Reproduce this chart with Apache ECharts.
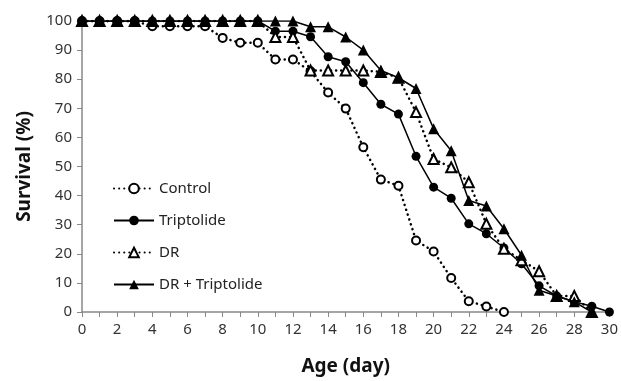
<!DOCTYPE html>
<html>
<head>
<meta charset="utf-8">
<script src="https://cdn.jsdelivr.net/npm/echarts@6/dist/echarts.min.js"></script>
<style>
  html, body { margin: 0; padding: 0; background: #fff; }
  #chart { width: 621px; height: 381px; }
</style>
</head>
<body>
<div id="chart"></div>
<script>
(function(){
    // survival (%) per day
    var controlDays = [0,1,2,3,4,5,6,7,8,9,10,11,12,13,14,15,16,17,18,19,20,21,22,23,24];
    var controlVals = [100,100,100,100,98.2,98.2,98.2,98.2,94.2,92.5,92.5,86.8,86.8,82.7,75.4,69.9,56.6,45.5,43.4,24.6,20.8,11.7,3.7,1.9,0];

    var tripDays = [0,1,2,3,4,5,6,7,8,9,10,11,12,13,14,15,16,17,18,19,20,21,22,23,24,25,26,27,28,29,30];
    var tripVals = [100,100,100,100,100,100,100,100,100,100,100,96.5,96.5,94.6,87.7,86,78.8,71.4,68,53.5,42.9,39.1,30.3,26.9,22,16.6,9,5.5,3.5,2,0];

    var drDays = [0,1,2,3,4,5,6,7,8,9,10,11,12,13,14,15,16,17,18,19,20,21,22,23,24,25,26,27,28,29];
    var drVals = [100,100,100,100,100,100,100,100,100,100,100,94.5,94.5,83,83,83,83,82.5,80.5,68.7,52.6,49.7,44.6,30.3,21.7,17.8,14,5.5,5.5,0];

    var drTripDays = [0,1,2,3,4,5,6,7,8,9,10,11,12,13,14,15,16,17,18,19,20,21,22,23,24,25,26,27,28,29];
    var drTripVals = [100,100,100,100,100,100,100,100,100,100,100,100,100,98,98,94.5,90,83,80.5,76.8,63,55.4,38.3,36.4,28.6,19.5,7.5,5.5,3.5,0];

    function pairs(days, vals) {
        return days.map(function(d, i){ return [d, vals[i]]; });
    }

    var font = '"Noto Sans", sans-serif';
    var dots = { color: '#000', width: 2.5, type: [0.1, 5], cap: 'round' };
    var solid = { color: '#000', width: 1.5 };

    var chart = echarts.init(document.getElementById('chart'));
    chart.setOption({
        animation: false,
        textStyle: { fontFamily: font },
        grid: { left: 82, right: 11, top: 21, bottom: 67 },
        legend: {
            orient: 'vertical',
            left: 108,
            top: 176,
            itemWidth: 40,
            itemHeight: 12,
            itemGap: 17,
            textStyle: { fontSize: 15, color: '#222', fontFamily: font },
            data: ['Control', 'Triptolide', 'DR', 'DR + Triptolide']
        },
        xAxis: {
            type: 'value',
            min: 0, max: 30, interval: 2,
            name: 'Age (day)',
            nameLocation: 'middle',
            nameGap: 45,
            nameTextStyle: { fontSize: 19, fontWeight: 'bold', color: '#111' },
            axisLine: { lineStyle: { color: '#888', width: 1.5 } },
            axisTick: { length: 5, lineStyle: { color: '#888' } },
            minorTick: { show: true, splitNumber: 2, length: 5, lineStyle: { color: '#888' } },
            axisLabel: { fontSize: 15, color: '#333', margin: 10 },
            splitLine: { show: false }
        },
        yAxis: {
            type: 'value',
            min: 0, max: 100, interval: 10,
            name: 'Survival (%)',
            nameLocation: 'middle',
            nameGap: 48,
            nameTextStyle: { fontSize: 19, fontWeight: 'bold', color: '#111' },
            axisLine: { show: true, lineStyle: { color: '#888', width: 1.5 } },
            axisTick: { show: true, length: 5, lineStyle: { color: '#888' } },
            axisLabel: { fontSize: 15, color: '#333', margin: 10 },
            splitLine: { show: false }
        },
        series: [
            {
                name: 'Control', type: 'line',
                data: pairs(controlDays, controlVals),
                symbol: 'emptyCircle', symbolSize: 8,
                itemStyle: { color: '#000', borderWidth: 1.5 },
                lineStyle: dots
            },
            {
                name: 'Triptolide', type: 'line',
                data: pairs(tripDays, tripVals),
                symbol: 'circle', symbolSize: 9,
                itemStyle: { color: '#000' },
                lineStyle: solid
            },
            {
                name: 'DR', type: 'line',
                data: pairs(drDays, drVals),
                symbol: 'emptyTriangle', symbolSize: 10,
                itemStyle: { color: '#000', borderWidth: 1.5 },
                lineStyle: dots
            },
            {
                name: 'DR + Triptolide', type: 'line',
                data: pairs(drTripDays, drTripVals),
                symbol: 'triangle', symbolSize: 11,
                itemStyle: { color: '#000' },
                lineStyle: solid
            }
        ]
    });
})();
</script>
</body>
</html>
